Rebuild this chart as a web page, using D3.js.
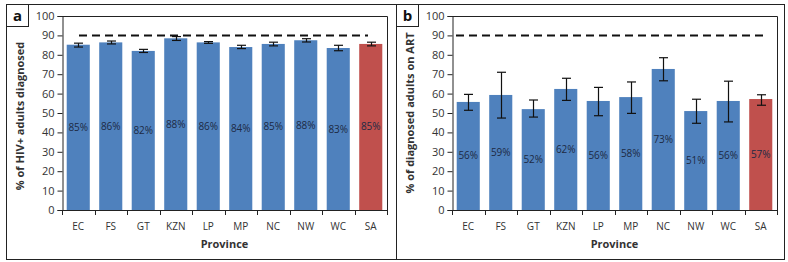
<!DOCTYPE html>
<html>
<head>
<meta charset="utf-8">
<script src="https://cdn.jsdelivr.net/npm/d3@7"></script>
<style>
  body { margin: 0; background: #fff; }
  text { font-family: "Open Sans", "Noto Sans", sans-serif; }
</style>
</head>
<body>
<svg id="chart" width="788" height="262"></svg>
<script>
// provinces (SA = national)
var provinces = ["EC", "FS", "GT", "KZN", "LP", "MP", "NC", "NW", "WC", "SA"];

// panel a: % of HIV+ adults diagnosed
var diagnosed = [85.2, 86.4, 82.0, 88.5, 86.4, 84.0, 85.6, 87.5, 83.5, 85.6];
var diagnosedLo = [84.0, 85.6, 81.2, 87.4, 85.9, 83.2, 84.6, 86.6, 82.1, 84.6];
var diagnosedHi = [86.0, 87.1, 82.8, 89.4, 86.8, 84.9, 86.5, 88.3, 84.9, 86.5];
var diagnosedLabels = ["85%", "86%", "82%", "88%", "86%", "84%", "85%", "88%", "83%", "85%"];

// panel b: % of diagnosed adults on ART
var onArt = [55.7, 59.3, 52.0, 62.4, 56.2, 58.2, 72.7, 51.0, 56.2, 57.2];
var onArtLo = [51.4, 47.4, 47.9, 56.5, 48.6, 49.8, 66.6, 44.7, 45.4, 54.0];
var onArtHi = [59.6, 71.0, 56.7, 67.9, 63.2, 66.0, 78.5, 57.1, 66.4, 59.4];
var onArtLabels = ["56%", "59%", "52%", "62%", "56%", "58%", "73%", "51%", "56%", "57%"];

var yTicks = [0, 10, 20, 30, 40, 50, 60, 70, 80, 90, 100];
var target = 90;

var svg = d3.select("#chart");

// outer frame and divider
svg.append("rect")
    .attr("x", 6.5).attr("y", 4.5)
    .attr("width", 778).attr("height", 255)
    .attr("fill", "none").attr("stroke", "#222").attr("stroke-width", 1);
svg.append("line")
    .attr("x1", 396.5).attr("x2", 396.5).attr("y1", 4.5).attr("y2", 259.5)
    .attr("stroke", "#222");

function drawPanel(opt) {
    var left = opt.left, right = opt.right, top = 16, bottom = 210;

    // letter box
    svg.append("rect")
        .attr("x", opt.boxX + 0.5).attr("y", 4.5)
        .attr("width", 22).attr("height", 22)
        .attr("fill", "#fff").attr("stroke", "#222");
    svg.append("text")
        .attr("x", opt.boxX + 11.5).attr("y", 21)
        .attr("text-anchor", "middle")
        .style("font-size", "15px").style("font-weight", "bold")
        .attr("fill", "#111")
        .text(opt.letter);

    var x = d3.scaleBand().domain(provinces).range([left, right]).paddingInner(0.29).paddingOuter(0.145);
    var xb = d3.scaleBand().domain(provinces).range([left, right]);
    var y = d3.scaleLinear().domain([0, 100]).range([bottom, top]);

    // plot frame (top + right)
    svg.append("path")
        .attr("d", "M" + left + "," + (top + 0.5) + "H" + (right + 0.5) + "V" + bottom)
        .attr("fill", "none").attr("stroke", "#222");

    // bars
    var g = svg.append("g");
    g.selectAll("rect.bar")
        .data(opt.values)
        .enter().append("rect")
        .attr("class", "bar")
        .attr("x", function (d, i) { return x(provinces[i]); })
        .attr("y", function (d) { return y(d); })
        .attr("width", x.bandwidth())
        .attr("height", function (d) { return y(0) - y(d); })
        .attr("fill", function (d, i) { return provinces[i] == "SA" ? "#C0504D" : "#4F81BD"; });

    // value labels (centre of bar)
    g.selectAll("text.val")
        .data(opt.values)
        .enter().append("text")
        .attr("class", "val")
        .attr("x", function (d, i) { return x(provinces[i]) + x.bandwidth() / 2; })
        .attr("y", function (d) { return y(d / 2) + 3.5; })
        .attr("text-anchor", "middle")
        .style("font-size", "10px")
        .attr("fill", "#1d2a44")
        .text(function (d, i) { return opt.labels[i]; });

    // error bars
    var eb = g.selectAll("g.err")
        .data(opt.values)
        .enter().append("g")
        .attr("class", "err")
        .attr("transform", function (d, i) {
            return "translate(" + (Math.round(x(provinces[i]) + x.bandwidth() / 2) + 0.5) + ",0)";
        });
    eb.append("line")
        .attr("y1", function (d, i) { return y(opt.lo[i]); })
        .attr("y2", function (d, i) { return y(opt.hi[i]); })
        .attr("stroke", "#111").attr("stroke-width", 1.2);
    eb.append("line")
        .attr("x1", -4.5).attr("x2", 4.5)
        .attr("y1", function (d, i) { return y(opt.lo[i]); })
        .attr("y2", function (d, i) { return y(opt.lo[i]); })
        .attr("stroke", "#111").attr("stroke-width", 1.2);
    eb.append("line")
        .attr("x1", -4.5).attr("x2", 4.5)
        .attr("y1", function (d, i) { return y(opt.hi[i]); })
        .attr("y2", function (d, i) { return y(opt.hi[i]); })
        .attr("stroke", "#111").attr("stroke-width", 1.2);

    // target line
    svg.append("line")
        .attr("x1", opt.dashStart).attr("x2", opt.dashEnd)
        .attr("y1", y(target)).attr("y2", y(target))
        .attr("stroke", "#111").attr("stroke-width", 2)
        .attr("stroke-dasharray", "8,5");

    // y axis
    var yAxis = d3.axisLeft(y).tickValues(yTicks).tickSize(5).tickPadding(3);
    var ya = svg.append("g")
        .attr("transform", "translate(" + (left + 0.5) + ",0)")
        .call(yAxis);
    ya.select(".domain").attr("stroke", "#222");
    ya.selectAll(".tick line").attr("stroke", "#222");
    ya.selectAll("text").style("font-size", "11px").attr("fill", "#333");

    // x axis with ticks between categories
    svg.append("line")
        .attr("x1", left).attr("x2", right + 0.5)
        .attr("y1", bottom + 0.5).attr("y2", bottom + 0.5)
        .attr("stroke", "#222");
    svg.append("g").selectAll("line")
        .data(provinces.concat(["end"]))
        .enter().append("line")
        .attr("x1", function (d, i) { return Math.round(left + i * xb.step()) + 0.5; })
        .attr("x2", function (d, i) { return Math.round(left + i * xb.step()) + 0.5; })
        .attr("y1", bottom).attr("y2", bottom + 5)
        .attr("stroke", "#222");
    svg.append("g").selectAll("text")
        .data(provinces)
        .enter().append("text")
        .attr("x", function (d) { return xb(d) + xb.bandwidth() / 2; })
        .attr("y", 230)
        .attr("text-anchor", "middle")
        .style("font-size", "10px")
        .attr("fill", "#333")
        .text(function (d) { return d; });

    // axis titles
    svg.append("text")
        .attr("x", (left + right) / 2).attr("y", 248)
        .attr("text-anchor", "middle")
        .style("font-size", "11px").style("font-weight", "bold")
        .attr("fill", "#333")
        .text("Province");
    svg.append("text")
        .attr("transform", "translate(" + opt.titleX + "," + opt.titleY + ") rotate(-90)")
        .attr("text-anchor", "middle")
        .style("font-size", "11px").style("font-weight", "bold")
        .attr("fill", "#333")
        .text(opt.title);
}

drawPanel({
    letter: "a", boxX: 6, left: 62, right: 387, titleX: 24, titleY: 116,
    values: diagnosed, lo: diagnosedLo, hi: diagnosedHi, labels: diagnosedLabels,
    title: "% of HIV+ adults diagnosed", dashStart: 79, dashEnd: 368
});
drawPanel({
    letter: "b", boxX: 396, left: 452, right: 777, titleX: 414, titleY: 113,
    values: onArt, lo: onArtLo, hi: onArtHi, labels: onArtLabels,
    title: "% of diagnosed adults on ART", dashStart: 456, dashEnd: 764
});
</script>
</body>
</html>
